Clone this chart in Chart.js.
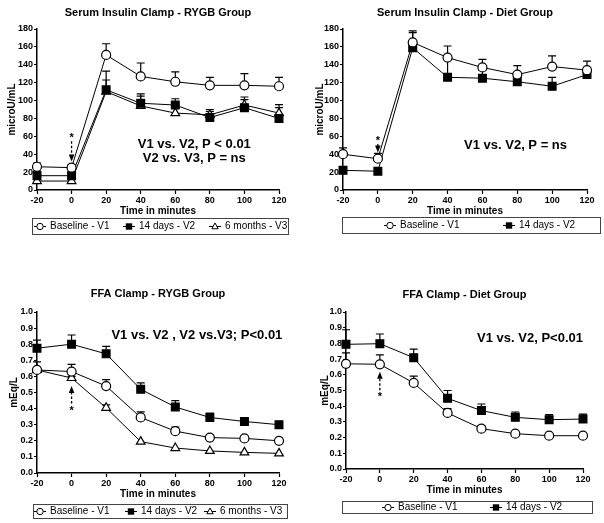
<!DOCTYPE html>
<html>
<head>
<meta charset="utf-8">
<script src="https://cdn.jsdelivr.net/npm/chart.js@4.4.1/dist/chart.umd.min.js"></script>
<style>
  body { margin: 0; background: #fff; width: 604px; height: 523px; position: relative; overflow: hidden; }
  canvas { position: absolute; }
</style>
</head>
<body>
<canvas id="insRygb" width="302" height="262" style="left:0;top:0"></canvas>
<canvas id="insDiet" width="302" height="262" style="left:302px;top:0"></canvas>
<canvas id="ffaRygb" width="302" height="261" style="left:0;top:262px"></canvas>
<canvas id="ffaDiet" width="302" height="261" style="left:302px;top:262px"></canvas>
<script>
// --- Data ---
const minutes = [-20, 0, 20, 40, 60, 80, 100, 120];
const seriesNames = ['Baseline - V1', '14 days - V2', '6 months - V3'];

// Serum insulin clamp, RYGB group (microU/mL), mean and SEM
const insRygbV1 = [26, 25, 151, 127, 121, 117, 117, 116];
const insRygbV1Sem = [4, 3, 12.5, 15, 11, 9, 13, 10];
const insRygbV2 = [16, 16, 112, 97, 95, 81, 92, 80];
const insRygbV2Sem = [5, 4, 21, 10.5, 7, 9, 12, 15.5];
const insRygbV3 = [10, 10, 110, 94, 86, 84, 95, 86];
const insRygbV3Sem = [3, 3, 13, 11, 6, 4, 6, 6];

// Serum insulin clamp, diet group
const insDietV1 = [40, 35, 165, 148, 137, 129, 138, 134];
const insDietV1Sem = [7, 6, 13, 13, 9, 10, 12, 10];
const insDietV2 = [22, 21, 159, 126, 125, 121, 116, 129];
const insDietV2Sem = [0, 0, 17, 20, 9, 5, 10, 0];

// FFA clamp, RYGB group (mEq/L)
const ffaRygbV1 = [0.64, 0.63, 0.54, 0.345, 0.26, 0.22, 0.215, 0.20];
const ffaRygbV1Sem = [0.05, 0.045, 0.04, 0.035, 0.025, 0.015, 0.012, 0];
const ffaRygbV2 = [0.775, 0.80, 0.74, 0.52, 0.41, 0.345, 0.32, 0.30];
const ffaRygbV2Sem = [0.05, 0.057, 0.046, 0.04, 0.04, 0.027, 0.01, 0];
const ffaRygbV3 = [0.64, 0.59, 0.405, 0.195, 0.155, 0.137, 0.128, 0.122];
const ffaRygbV3Sem = [0.01, 0.01, 0.018, 0, 0, 0, 0, 0];

// FFA clamp, diet group
const ffaDietV1 = [0.67, 0.667, 0.548, 0.357, 0.257, 0.225, 0.212, 0.212];
const ffaDietV1Sem = [0.07, 0.06, 0.044, 0.027, 0.02, 0, 0, 0];
const ffaDietV2 = [0.794, 0.798, 0.709, 0.45, 0.372, 0.329, 0.314, 0.318];
const ffaDietV2Sem = [0.093, 0.062, 0.055, 0.05, 0.042, 0.034, 0.032, 0.032];

const FONT = '"Liberation Sans", Arial, sans-serif';
Chart.defaults.font.family = FONT;
Chart.defaults.color = '#000';

// marker look per visit
const markers = [
    { pointStyle: 'circle', pointBackgroundColor: '#fff', pointRadius: 4.5 },
    { pointStyle: 'rect', pointBackgroundColor: '#000', pointRadius: 5.5 },
    { pointStyle: 'triangle', pointBackgroundColor: '#fff', pointRadius: 5 }
];

function makeSet(i, values, sem) {
    return {
        label: seriesNames[i],
        data: minutes.map((m, k) => ({ x: m, y: values[k] })),
        sem: sem,
        borderColor: '#000',
        borderWidth: 1,
        pointBorderColor: '#000',
        pointBorderWidth: 1.2,
        pointHoverRadius: markers[i].pointRadius,
        clip: false,
        ...markers[i]
    };
}

function drawMarker(ctx, style, x, y, r) {
    ctx.beginPath();
    if (style === 'circle') {
        ctx.arc(x, y, r, 0, Math.PI * 2);
        ctx.fillStyle = '#fff'; ctx.fill(); ctx.stroke();
    } else if (style === 'rect') {
        ctx.rect(x - r, y - r, 2 * r, 2 * r);
        ctx.fillStyle = '#000'; ctx.fill();
    } else {
        ctx.moveTo(x, y - r * 1.1);
        ctx.lineTo(x + r, y + r * 0.7);
        ctx.lineTo(x - r, y + r * 0.7);
        ctx.closePath();
        ctx.fillStyle = '#fff'; ctx.fill(); ctx.stroke();
    }
}

// error bars, significance notes, arrow and boxed legend
const extras = {
    id: 'extras',
    beforeDatasetsDraw(chart) {
        const { ctx, scales: { x, y } } = chart;
        ctx.save();
        ctx.strokeStyle = '#000';
        ctx.lineWidth = 1.2;
        chart.data.datasets.forEach(ds => {
            ds.data.forEach((p, k) => {
                const e = ds.sem[k];
                if (!e) return;
                const px = x.getPixelForValue(p.x);
                const y0 = y.getPixelForValue(p.y);
                const y1 = y.getPixelForValue(p.y + e);
                ctx.beginPath();
                ctx.moveTo(px, y0); ctx.lineTo(px, y1);
                ctx.moveTo(px - 4, y1); ctx.lineTo(px + 4, y1);
                ctx.stroke();
            });
        });
        ctx.restore();
    },
    afterDraw(chart, args, opts) {
        const { ctx, scales: { x, y } } = chart;
        ctx.save();
        ctx.fillStyle = '#000';
        ctx.strokeStyle = '#000';
        ctx.textAlign = 'center';
        ctx.textBaseline = 'middle';

        ctx.font = 'bold 13px ' + FONT;
        opts.notes.forEach(n => ctx.fillText(n.text, x.getPixelForValue(n.x), y.getPixelForValue(n.y)));

        // dashed arrow with star at t=0
        const a = opts.arrow;
        const ax = x.getPixelForValue(a.x);
        const yStar = y.getPixelForValue(a.star);
        const yTip = y.getPixelForValue(a.tip);
        const dir = yTip > yStar ? 1 : -1;
        ctx.font = 'bold 11px ' + FONT;
        ctx.fillText('*', ax, yStar + 2);
        ctx.lineWidth = 1.3;
        ctx.setLineDash([2.5, 2]);
        ctx.beginPath();
        ctx.moveTo(ax, yStar + dir * 5);
        ctx.lineTo(ax, yTip - dir * 6);
        ctx.stroke();
        ctx.setLineDash([]);
        ctx.beginPath();
        ctx.moveTo(ax, yTip);
        ctx.lineTo(ax - 2.8, yTip - dir * 7);
        ctx.lineTo(ax + 2.8, yTip - dir * 7);
        ctx.closePath();
        ctx.fill();

        // legend box
        const lg = opts.legend;
        ctx.lineWidth = 1;
        ctx.strokeStyle = '#444';
        ctx.strokeRect(lg.left + 0.5, lg.top + 0.5, lg.width, lg.height);
        const cy = lg.top + lg.height / 2 + 0.5;
        ctx.font = '10px ' + FONT;
        ctx.textAlign = 'left';
        chart.data.datasets.forEach((ds, i) => {
            const mx = lg.marks[i];
            ctx.strokeStyle = '#000';
            ctx.lineWidth = 1;
            ctx.beginPath();
            ctx.moveTo(mx - 6, cy); ctx.lineTo(mx + 6, cy);
            ctx.stroke();
            drawMarker(ctx, ds.pointStyle, mx, cy, 3.2);
            ctx.fillStyle = '#000';
            ctx.fillText(ds.label, mx + 10, cy);
        });
        ctx.restore();
    }
};

function makeChart(id, c) {
    const canvas = document.getElementById(id);
    const W = canvas.width, H = canvas.height;
    return new Chart(canvas, {
        type: 'line',
        data: { datasets: c.sets },
        plugins: [extras],
        options: {
            responsive: false,
            animation: false,
            devicePixelRatio: 1,
            events: [],
            layout: { padding: { left: 0, top: 0, right: W - c.area.right, bottom: H - c.area.bottom - 30 } },
            plugins: {
                legend: { display: false },
                tooltip: { enabled: false },
                title: {
                    display: true,
                    text: c.title,
                    fullSize: false,
                    color: '#000',
                    font: { size: 11, weight: 'bold' },
                    padding: { top: c.titleY - 6.6, bottom: c.area.top - c.titleY - 6.6 }
                },
                extras: { notes: c.notes, arrow: c.arrow, legend: c.legend }
            },
            scales: {
                x: {
                    type: 'linear',
                    min: -20, max: 120,
                    afterFit: s => { s.height = 30; },
                    ticks: { stepSize: 20, padding: 1, font: { size: 9, weight: 'bold' }, color: '#000', maxRotation: 0 },
                    grid: { drawOnChartArea: false, tickLength: 4, tickColor: '#000', tickWidth: 1.2 },
                    border: { color: '#000', width: 1.5 },
                    title: { display: true, text: 'Time in minutes', color: '#000', font: { size: 10, weight: 'bold' }, padding: { top: 0, bottom: 3 } }
                },
                y: {
                    min: 0, max: c.yMax,
                    afterFit: s => { s.width = c.area.left; },
                    ticks: {
                        stepSize: c.yStep, padding: 1, color: '#000',
                        font: { size: 9, weight: 'bold' },
                        callback: v => v.toFixed(c.yDecimals)
                    },
                    grid: { drawOnChartArea: false, tickLength: 3, tickColor: '#000', tickWidth: 1.2 },
                    border: { color: '#000', width: 1.5 },
                    title: { display: true, text: c.yTitle, color: '#000', font: { size: 10, weight: 'bold' }, padding: { top: c.yTitleX - 6, bottom: 0 } }
                }
            }
        }
    });
}

makeChart('insRygb', {
    title: 'Serum Insulin Clamp - RYGB Group',
    yTitle: 'microU/mL', yMax: 180, yStep: 20, yDecimals: 0,
    area: { left: 37, right: 279, top: 29, bottom: 190 }, titleY: 12.6, yTitleX: 12,
    sets: [makeSet(0, insRygbV1, insRygbV1Sem), makeSet(1, insRygbV2, insRygbV2Sem), makeSet(2, insRygbV3, insRygbV3Sem)],
    notes: [{ text: 'V1 vs. V2, P < 0.01', x: 71, y: 51 }, { text: 'V2 vs. V3, P = ns', x: 71, y: 35 }],
    arrow: { x: 0, star: 60, tip: 32 },
    legend: { left: 32, top: 218, width: 256, height: 16, marks: [40, 129, 215] }
});

makeChart('insDiet', {
    title: 'Serum Insulin Clamp - Diet Group',
    yTitle: 'microU/mL', yMax: 180, yStep: 20, yDecimals: 0,
    area: { left: 41, right: 285, top: 29, bottom: 190 }, titleY: 12.6, yTitleX: 18,
    sets: [makeSet(0, insDietV1, insDietV1Sem), makeSet(1, insDietV2, insDietV2Sem)],
    notes: [{ text: 'V1 vs. V2, P = ns', x: 79, y: 50 }],
    arrow: { x: 0, star: 57, tip: 42 },
    legend: { left: 40, top: 217, width: 258, height: 16, marks: [88, 207] }
});

makeChart('ffaRygb', {
    title: 'FFA Clamp - RYGB Group',
    yTitle: 'mEq/L', yMax: 1, yStep: 0.1, yDecimals: 1,
    area: { left: 37, right: 279, top: 50, bottom: 211 }, titleY: 32, yTitleX: 14,
    sets: [makeSet(0, ffaRygbV1, ffaRygbV1Sem), makeSet(1, ffaRygbV2, ffaRygbV2Sem), makeSet(2, ffaRygbV3, ffaRygbV3Sem)],
    notes: [{ text: 'V1 vs. V2 , V2 vs.V3; P<0.01', x: 72.5, y: 0.857 }],
    arrow: { x: 0, star: 0.40, tip: 0.54 },
    legend: { left: 33, top: 242, width: 254, height: 14, marks: [40, 131, 210] }
});

makeChart('ffaDiet', {
    title: 'FFA Clamp - Diet Group',
    yTitle: 'mEq/L', yMax: 1, yStep: 0.1, yDecimals: 1,
    area: { left: 44, right: 281, top: 50, bottom: 207 }, titleY: 33, yTitleX: 23,
    sets: [makeSet(0, ffaDietV1, ffaDietV1Sem), makeSet(1, ffaDietV2, ffaDietV2Sem)],
    notes: [{ text: 'V1 vs. V2, P<0.01', x: 88.7, y: 0.834 }],
    arrow: { x: 0, star: 0.47, tip: 0.62 },
    legend: { left: 40, top: 239, width: 250, height: 12, marks: [86, 194] }
});
</script>
</body>
</html>
